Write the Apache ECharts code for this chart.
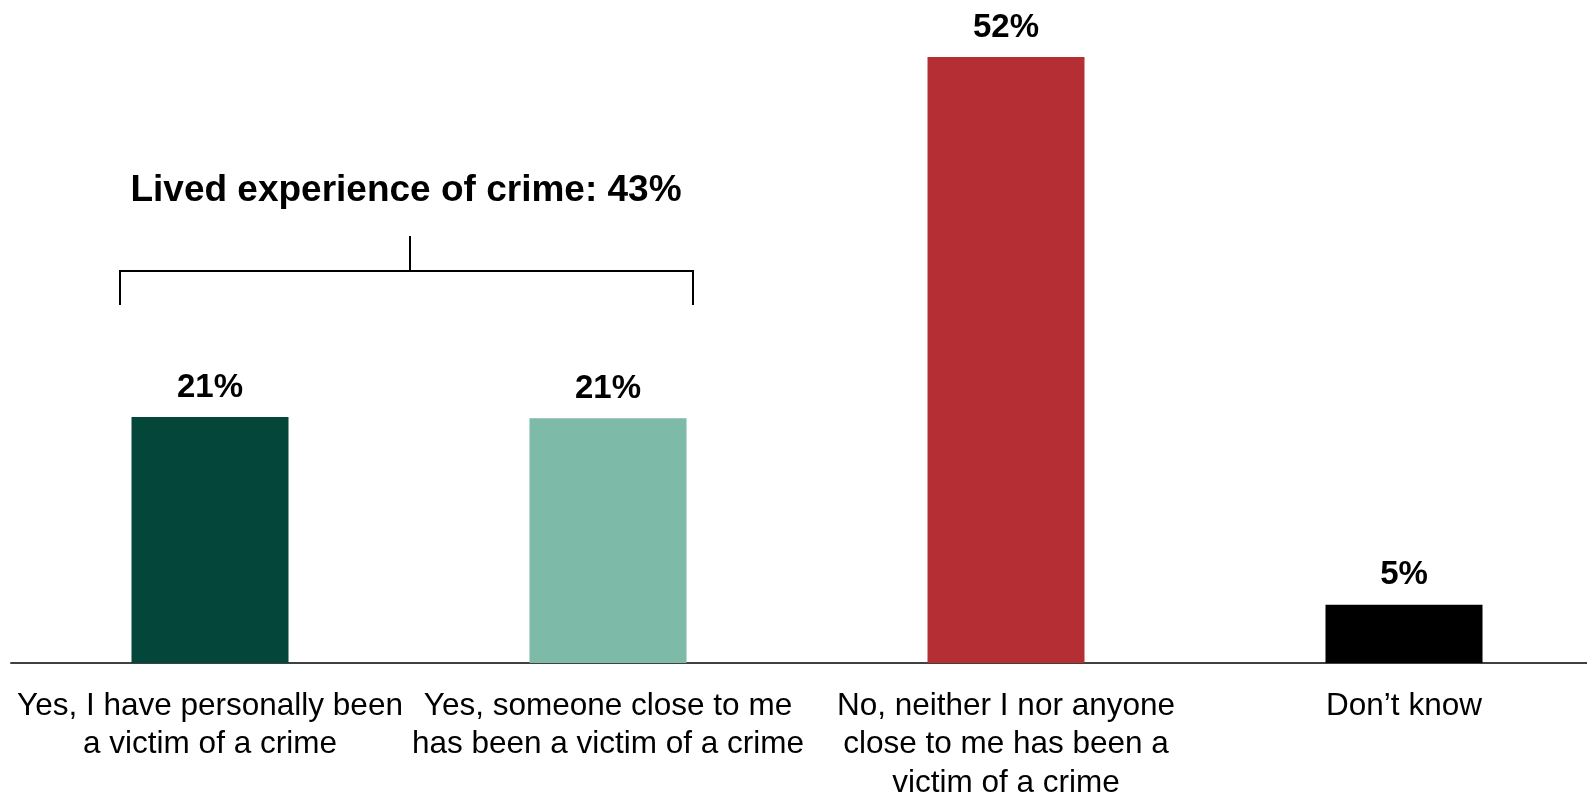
<!DOCTYPE html>
<html>
<head>
<meta charset="utf-8">
<script src="https://cdn.jsdelivr.net/npm/echarts@6/dist/echarts.min.js"></script>
<style>
html,body{margin:0;padding:0;background:#fff;}
#c{width:1587px;height:795px;}
</style>
</head>
<body>
<div id="c"></div>
<script>
const categories = [
  "Yes, I have personally been\na victim of a crime",
  "Yes, someone close to me\nhas been a victim of a crime",
  "No, neither I nor anyone\nclose to me has been a\nvictim of a crime",
  "Don\u2019t know"
];
const values = [21.1, 21.0, 52, 5];
const barColors = ["#04463A", "#7EBAA8", "#B52E33", "#000000"];
const bracketTitle = "Lived experience of crime: 43%";

const FONT = "'Liberation Sans', Arial, Helvetica, sans-serif";
const chart = echarts.init(document.getElementById('c'), null, {renderer: 'canvas'});

const option = {
  animation: false,
  backgroundColor: '#ffffff',
  grid: {left: 11, width: 1592, top: 22, height: 641, containLabel: false, outerBoundsMode: 'none'},
  xAxis: {
    type: 'category',
    data: categories,
    axisLine: {show: true, lineStyle: {color: '#404040', width: 2}},
    axisTick: {show: false},
    axisLabel: {
      interval: 0,
      margin: 24,
      color: '#000',
      fontFamily: FONT,
      fontSize: 31.5,
      lineHeight: 38.5,
      align: 'center'
    }
  },
  yAxis: {
    type: 'value',
    min: 0,
    max: 55,
    show: false,
    splitLine: {show: false}
  },
  series: [{
    type: 'bar',
    barWidth: 157,
    data: values.map((v, i) => ({value: v, itemStyle: {color: barColors[i]}})),
    label: {
      show: true,
      position: 'top',
      distance: 13,
      color: '#000',
      fontFamily: FONT,
      fontWeight: 'bold',
      fontSize: 33,
      formatter: p => Math.round(p.value) + '%'
    }
  }]
};
chart.setOption(option);

// bracket annotation over the first two categories
const x0 = chart.convertToPixel({xAxisIndex: 0}, 0);
const x1 = chart.convertToPixel({xAxisIndex: 0}, 1);
const left = x0 - 90, right = x1 + 85, mid = (x0 + x1) / 2 + 1;
const yBar = 271, yEnd = 305, yStem = 236;
chart.setOption({
  graphic: [
    {type: 'polyline', shape: {points: [[left, yEnd], [left, yBar], [right, yBar], [right, yEnd]]},
     style: {stroke: '#000', lineWidth: 2, fill: null}},
    {type: 'line', shape: {x1: mid, y1: yStem, x2: mid, y2: yBar},
     style: {stroke: '#000', lineWidth: 2}},
    {type: 'text', x: mid - 4, y: 191,
     style: {text: bracketTitle, font: 'bold 37px ' + FONT, fill: '#000', textAlign: 'center', textVerticalAlign: 'middle'}}
  ]
});
</script>
</body>
</html>
